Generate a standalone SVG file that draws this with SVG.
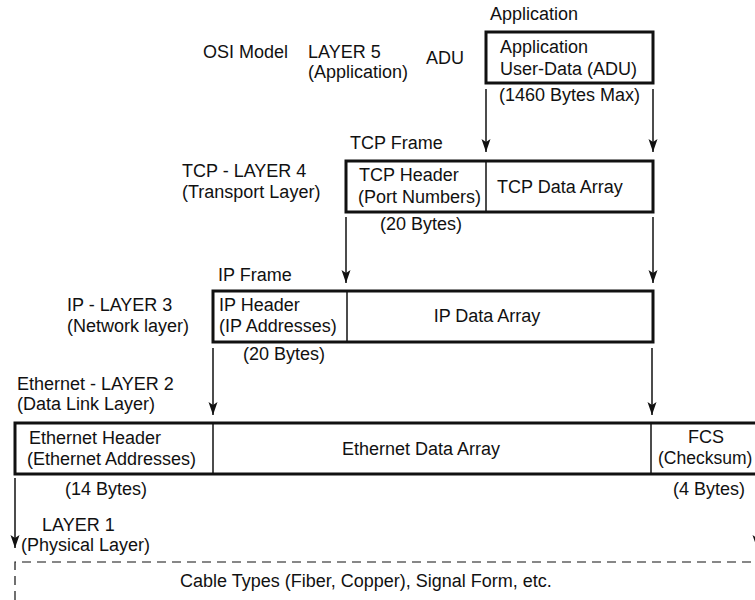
<svg xmlns="http://www.w3.org/2000/svg" width="755" height="600" viewBox="0 0 755 600">
<style>
text{font-family:"Liberation Sans",Arial,sans-serif;font-size:18px;fill:#111}
.m{text-anchor:middle}
.frame{fill:#fff;stroke:#111;stroke-width:3}
.div{stroke:#111;stroke-width:1.5}
.con{stroke:#111;stroke-width:1.5;fill:none;marker-end:url(#ah)}
.dash{stroke:#111;stroke-width:1.2;fill:none;stroke-dasharray:9,6}
</style>
<defs>
<marker id="ah" markerUnits="userSpaceOnUse" markerWidth="14" markerHeight="10" refX="13" refY="5" orient="auto" viewBox="0 0 14 10">
<path d="M0,0.5 L13,5 L0,9.5 L3,5 Z" fill="#111"/>
</marker>
</defs>
<rect width="755" height="600" fill="#fff"/>
<g id="labels">
<text x="490" y="20">Application</text>
<text x="203" y="58">OSI Model</text>
<text x="308" y="58">LAYER 5</text>
<text x="308" y="78">(Application)</text>
<text x="426" y="64">ADU</text>
<text x="350" y="149">TCP Frame</text>
<text x="182" y="177">TCP - LAYER 4</text>
<text x="182" y="198">(Transport Layer)</text>
<text x="218" y="281">IP Frame</text>
<text x="67" y="311">IP - LAYER 3</text>
<text x="67" y="332">(Network layer)</text>
<text x="17" y="390">Ethernet - LAYER 2</text>
<text x="17" y="410">(Data Link Layer)</text>
<text x="42" y="531">LAYER 1</text>
<text x="21" y="551">(Physical Layer)</text>
</g>
<g id="adu">
<rect class="frame" x="486" y="32" width="167" height="51"/>
<text x="500" y="53">Application</text>
<text x="500" y="75">User-Data (ADU)</text>
<text x="499" y="101">(1460 Bytes Max)</text>
</g>
<g id="tcp">
<rect class="frame" x="346" y="161" width="307" height="51"/>
<line class="div" x1="486" y1="161" x2="486" y2="212"/>
<text x="359" y="181">TCP Header</text>
<text x="358" y="203">(Port Numbers)</text>
<text x="497" y="193">TCP Data Array</text>
<text x="380" y="230">(20 Bytes)</text>
</g>
<g id="ip">
<rect class="frame" x="213" y="291" width="440" height="51"/>
<line class="div" x1="347" y1="291" x2="347" y2="342"/>
<text x="219" y="311">IP Header</text>
<text x="219" y="332">(IP Addresses)</text>
<text class="m" x="487" y="322">IP Data Array</text>
<text x="243" y="360">(20 Bytes)</text>
</g>
<g id="ethernet">
<rect class="frame" x="15" y="423" width="760" height="51"/>
<line class="div" x1="213" y1="423" x2="213" y2="474"/>
<line class="div" x1="651" y1="423" x2="651" y2="474"/>
<text x="29" y="444">Ethernet Header</text>
<text x="27" y="465">(Ethernet Addresses)</text>
<text class="m" x="421" y="455">Ethernet Data Array</text>
<text class="m" x="706" y="443">FCS</text>
<text x="658" y="464" style="font-size:17.5px">(Checksum)</text>
<text x="65" y="495">(14 Bytes)</text>
<text x="673" y="495">(4 Bytes)</text>
</g>
<g id="physical">
<path class="dash" d="M15,600 L15,562 L760,562"/>
<text x="180" y="587">Cable Types (Fiber, Copper), Signal Form, etc.</text>
</g>
<g id="connectors">
<line class="con" x1="486" y1="89" x2="486" y2="152"/>
<line class="con" x1="653" y1="89" x2="653" y2="152"/>
<line class="con" x1="346" y1="217" x2="346" y2="283"/>
<line class="con" x1="653" y1="217" x2="653" y2="283"/>
<line class="con" x1="213" y1="348" x2="213" y2="415"/>
<line class="con" x1="652" y1="348" x2="652" y2="415"/>
<line class="con" x1="15" y1="478" x2="15" y2="548"/>
<line class="con" x1="757" y1="478" x2="757" y2="548"/>
</g>
</svg>
